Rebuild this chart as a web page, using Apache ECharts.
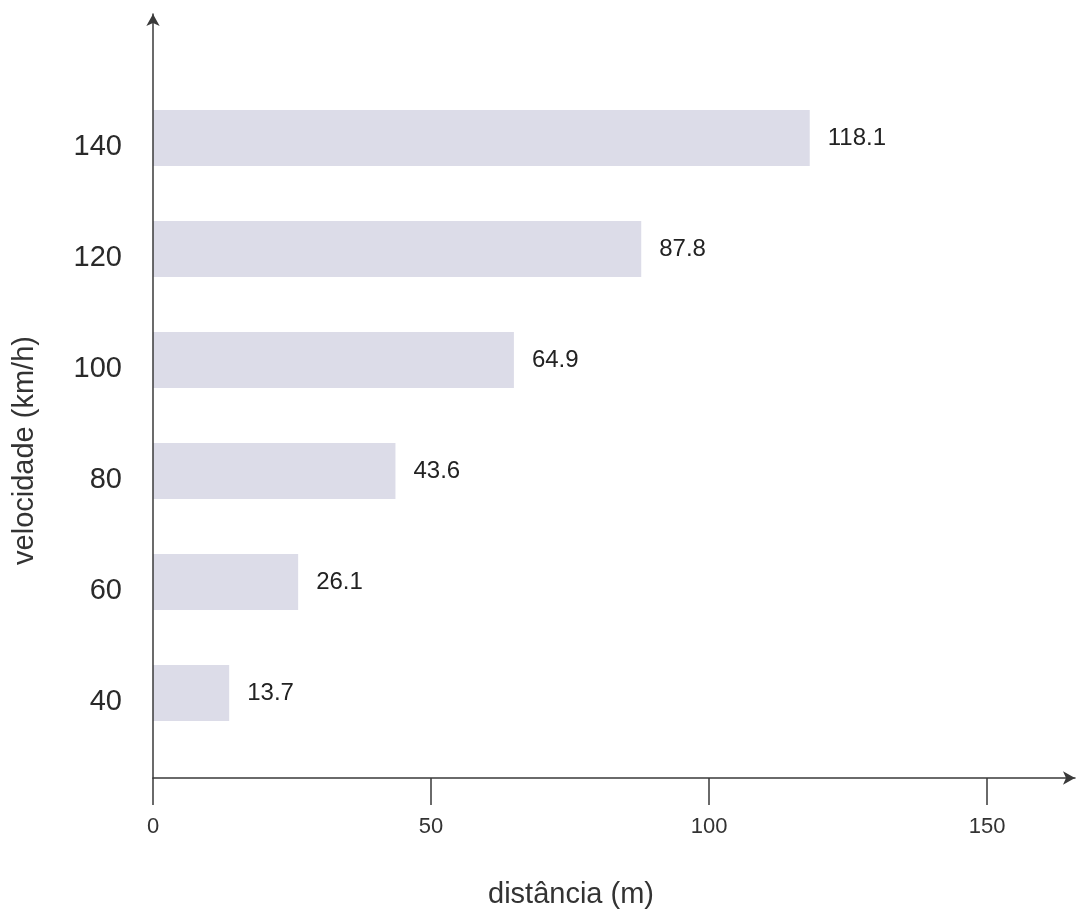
<!DOCTYPE html>
<html>
<head>
<meta charset="utf-8">
<script src="https://cdn.jsdelivr.net/npm/echarts@6/dist/echarts.min.js"></script>
<style>
html,body{margin:0;padding:0;background:#fff;}
#c{width:1076px;height:910px;}
</style>
</head>
<body>
<div id="c"></div>
<script>
const speeds = ['40', '60', '80', '100', '120', '140'];
const distances = [13.7, 26.1, 43.6, 64.9, 87.8, 118.1];
const xTicks = [0, 50, 100, 150];
const xMax = 165.8;
const xTitle = 'distância (m)';
const yTitle = 'velocidade (km/h)';

const FONT = '"Liberation Sans", Arial, Helvetica, sans-serif';
const AX = '#3a3a3a';

const chart = echarts.init(document.getElementById('c'));
chart.setOption({
  backgroundColor: '#ffffff',
  animation: false,
  textStyle: { fontFamily: FONT },
  grid: [
    { left: 153, right: 1, top: 14, bottom: 132, containLabel: false, outerBoundsMode: 'none' },
    { left: 153, right: 1, top: 82.5, bottom: 161.5, containLabel: false, outerBoundsMode: 'none' },
    { left: 153, right: 1, top: 91.5, bottom: 152.5, containLabel: false, outerBoundsMode: 'none' }
  ],
  xAxis: [
    {
      gridIndex: 0, type: 'value', min: 0, max: xMax, z: 5,
      axisLine: { show: true, lineStyle: { color: AX, width: 1.5 }, symbol: ['none', 'arrow'], symbolSize: [10, 12] },
      axisTick: { show: true, length: 27, customValues: xTicks, lineStyle: { color: AX, width: 1.5 } },
      axisLabel: { fontSize: 22, color: '#333', margin: 38, fontFamily: FONT, customValues: xTicks },
      splitLine: { show: false },
      name: xTitle, nameLocation: 'middle', nameGap: 102,
      nameTextStyle: { fontSize: 29, color: '#333', fontFamily: FONT, padding: [0, 86, 0, 0] }
    },
    { gridIndex: 1, type: 'value', min: 0, max: xMax, show: false },
    { gridIndex: 2, type: 'value', min: 0, max: xMax, show: false }
  ],
  yAxis: [
    {
      gridIndex: 0, type: 'value', min: 0, max: 1, z: 5,
      axisLine: { show: true, lineStyle: { color: AX, width: 1.5 }, symbol: ['none', 'arrow'], symbolSize: [10, 12] },
      axisTick: { show: false }, axisLabel: { show: false }, splitLine: { show: false }
    },
    {
      gridIndex: 1, type: 'category', data: speeds,
      axisLine: { show: false }, axisTick: { show: false }, splitLine: { show: false },
      axisLabel: { show: false },
      name: yTitle, nameLocation: 'middle', nameGap: 114,
      nameTextStyle: { fontSize: 29, color: '#333', fontFamily: FONT, padding: [0, 70, 0, 0] }
    },
    {
      gridIndex: 2, type: 'category', data: speeds,
      axisLine: { show: false }, axisTick: { show: false }, splitLine: { show: false },
      axisLabel: { fontSize: 29, color: '#2a2a2a', margin: 31, fontFamily: FONT }
    }
  ],
  series: [{
    type: 'bar', xAxisIndex: 1, yAxisIndex: 1,
    data: distances, barWidth: 56,
    itemStyle: { color: '#dcdce8' },
    label: { show: true, position: 'right', distance: 18, fontSize: 24, color: '#222', fontFamily: FONT,
      formatter: p => p.value.toFixed(1) }
  }]
});
</script>
</body>
</html>
